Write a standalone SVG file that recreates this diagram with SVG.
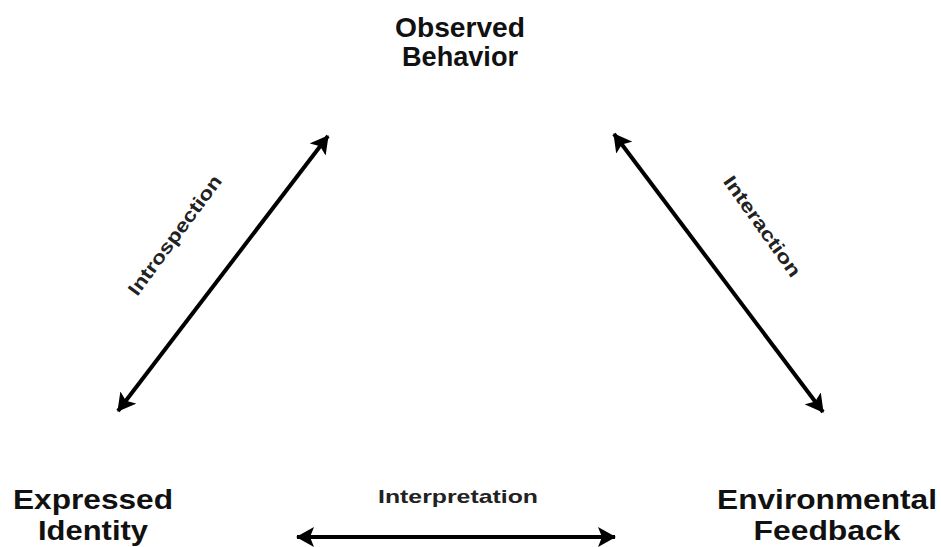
<svg xmlns="http://www.w3.org/2000/svg" width="941" height="547" viewBox="0 0 941 547">
  <style>
    .node { font-family: "Liberation Sans", Arial, sans-serif; font-weight: bold; font-size: 28px; fill: #111; text-anchor: middle; }
    .lbl { font-family: "Liberation Sans", Arial, sans-serif; font-weight: bold; font-size: 19px; fill: #222; text-anchor: middle; }
    .conn { stroke: #000; stroke-width: 4; fill: none; marker-start: url(#ah); marker-end: url(#ah); }
  </style>
  <defs>
    <marker id="ah" viewBox="0 0 18 20" refX="17" refY="10" markerWidth="18" markerHeight="20" markerUnits="userSpaceOnUse" orient="auto-start-reverse">
      <path d="M0,0 L18,10 L0,20 L4,10 Z" fill="#000"/>
    </marker>
  </defs>
  <rect width="941" height="547" fill="#fff"/>
  <g id="connectors">
    <line class="conn" x1="118" y1="411" x2="328" y2="136"/>
    <line class="conn" x1="614" y1="134" x2="823" y2="412"/>
    <line class="conn" x1="297" y1="537" x2="615" y2="537"/>
    <text class="lbl" transform="translate(180,239) rotate(-53.5)" textLength="144" lengthAdjust="spacingAndGlyphs">Introspection</text>
    <text class="lbl" transform="translate(757,230) rotate(54.6)" textLength="119" lengthAdjust="spacingAndGlyphs">Interaction</text>
    <text class="lbl" x="458" y="503" textLength="160" lengthAdjust="spacingAndGlyphs">Interpretation</text>
  </g>
  <g id="observed-behavior">
    <text class="node" x="460" y="37" textLength="130" lengthAdjust="spacingAndGlyphs">Observed</text>
    <text class="node" x="460" y="66" textLength="116" lengthAdjust="spacingAndGlyphs">Behavior</text>
  </g>
  <g id="expressed-identity">
    <text class="node" x="93" y="509" textLength="160" lengthAdjust="spacingAndGlyphs">Expressed</text>
    <text class="node" x="93" y="540" textLength="110" lengthAdjust="spacingAndGlyphs">Identity</text>
  </g>
  <g id="environmental-feedback">
    <text class="node" x="827" y="509" textLength="220" lengthAdjust="spacingAndGlyphs">Environmental</text>
    <text class="node" x="827" y="540" textLength="147" lengthAdjust="spacingAndGlyphs">Feedback</text>
  </g>
</svg>
